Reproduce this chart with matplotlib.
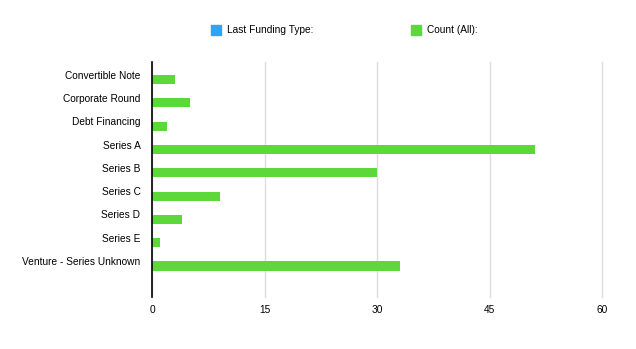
import matplotlib.pyplot as plt
from matplotlib.patches import Rectangle
from matplotlib.transforms import ScaledTranslation

plt.rcParams['font.family'] = ['Liberation Sans', 'DejaVu Sans']

# Data
categories = ['Convertible Note', 'Corporate Round', 'Debt Financing', 'Series A',
              'Series B', 'Series C', 'Series D', 'Series E', 'Venture - Series Unknown']
counts = [3, 5, 2, 51, 30, 9, 4, 1, 33]
x_ticks = [0, 15, 30, 45, 60]
legend_labels = ['Last Funding Type:', 'Count (All):']
legend_colors = ['#2EA3F8', '#5DD83A']

fig = plt.figure(figsize=(6.36, 3.49), dpi=100)
ax = fig.add_axes([0.2395, 0.149, 0.707, 0.673])

ypos = list(range(len(categories)))
ax.barh(ypos, counts, height=0.39, color=legend_colors[1], zorder=3)

ax.set_xlim(0, 60)
ax.set_ylim(len(categories) - 1 + 1.33, -0.75)
ax.set_xticks(x_ticks)
ax.set_xticklabels([str(t) for t in x_ticks], fontsize=7.3)
ax.set_yticks(ypos)
ax.set_yticklabels(categories, fontsize=7.3)
ax.tick_params(length=0, pad=6)
ax.tick_params(axis='y', pad=8.6)
# labels sit a little above the bar centres
shift = ScaledTranslation(0, 0.05, fig.dpi_scale_trans)
for lbl in ax.get_yticklabels():
    lbl.set_transform(lbl.get_transform() + shift)
ax.xaxis.grid(True, color='#dddddd', linewidth=1, zorder=0, clip_on=False)
for s in ['top', 'right', 'bottom']:
    ax.spines[s].set_visible(False)
ax.spines['left'].set_color('black')
ax.spines['left'].set_linewidth(1.2)
ax.spines['left'].set_zorder(4)

# Legend
leg_x = [211, 411]
for lx, lab, col in zip(leg_x, legend_labels, legend_colors):
    fig.add_artist(Rectangle((lx / 636, 1 - 35 / 349), 10 / 636, 10 / 349,
                             transform=fig.transFigure, color=col))
    fig.text((lx + 16) / 636, 1 - 30 / 349, lab, fontsize=7.3, va='center', ha='left')

fig.savefig('out.png', dpi=100)
